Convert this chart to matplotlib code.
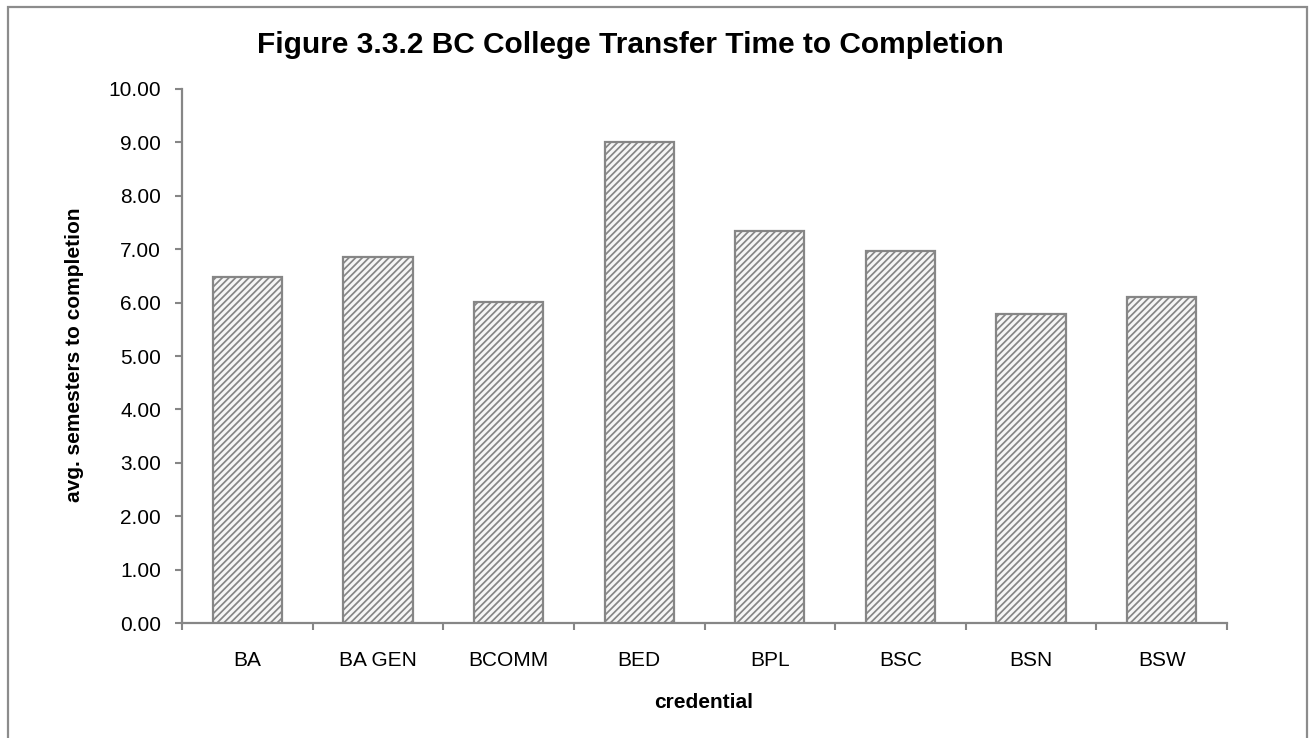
import matplotlib
matplotlib.use("Agg")
import matplotlib.pyplot as plt
from matplotlib.patches import Rectangle

# data
credentials = ["BA", "BA GEN", "BCOMM", "BED", "BPL", "BSC", "BSN", "BSW"]
avg_semesters = [6.48, 6.86, 6.01, 9.00, 7.33, 6.96, 5.79, 6.11]
y_ticks = [0, 1, 2, 3, 4, 5, 6, 7, 8, 9, 10]

plt.rcParams["font.family"] = ["Liberation Sans", "DejaVu Sans"]
plt.rcParams["hatch.color"] = "#c2c2c2"
plt.rcParams["hatch.linewidth"] = 1.25

GRAY = "#868686"

fig = plt.figure(figsize=(13.09, 7.38), dpi=100)
ax = fig.add_axes([182 / 1309, 1 - 623.3 / 738, (1227 - 182) / 1309, (623.3 - 88.7) / 738])

x = list(range(len(credentials)))
ax.bar(x, avg_semesters, width=0.53, color="#f6f6f6", edgecolor=GRAY,
       linewidth=1.6, hatch="/////", zorder=3)

ax.set_xlim(-0.5, len(credentials) - 0.5)
ax.set_ylim(0, 10)
ax.set_yticks(y_ticks)
ax.set_yticklabels([f"{v:.2f}" for v in y_ticks])
ax.set_xticks(x)
ax.set_xticklabels(credentials)
ax.set_xticks([i - 0.5 for i in range(len(credentials) + 1)], minor=True)

ax.tick_params(axis="x", which="major", length=0, pad=20, labelsize=15)
ax.tick_params(axis="x", which="minor", length=5, width=1.5, color=GRAY, direction="out")
ax.tick_params(axis="y", length=5, width=1.5, color=GRAY, pad=10, labelsize=15)

for side in ("top", "right"):
    ax.spines[side].set_visible(False)
for side in ("left", "bottom"):
    ax.spines[side].set_color(GRAY)
    ax.spines[side].set_linewidth(1.6)

fig.text(75 / 1309, 1 - 355 / 738, "avg. semesters to completion", rotation=90,
         ha="center", va="center", fontsize=15, fontweight="bold")
fig.text(704 / 1309, 1 - 703 / 738, "credential", ha="center", va="center",
         fontsize=15, fontweight="bold")
fig.text(630 / 1309, 1 - 45 / 738, "Figure 3.3.2 BC College Transfer Time to Completion",
         ha="center", va="center", fontsize=21.5, fontweight="bold")

# outer chart border (bottom edge is cut off in the original)
fig.patches.append(Rectangle((8 / 1309, -0.05), (1307 - 8) / 1309, 1.05 - 7 / 738,
                             transform=fig.transFigure, fill=False,
                             edgecolor="#8c8c8c", linewidth=1.6, clip_on=False))

fig.savefig("out.png", dpi=100)
